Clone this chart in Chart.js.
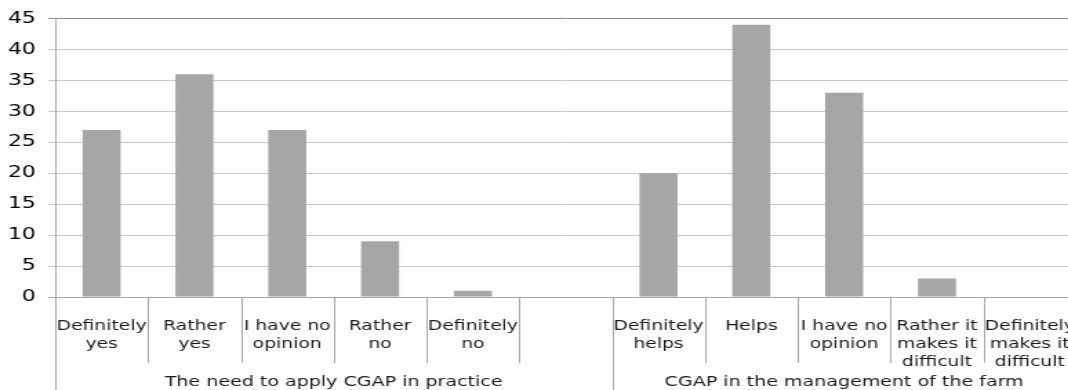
<!DOCTYPE html>
<html>
<head>
<meta charset="utf-8">
<script src="https://cdn.jsdelivr.net/npm/chart.js@4/dist/chart.umd.min.js"></script>
<style>
  html, body { margin: 0; padding: 0; background: #fff; overflow: hidden; }
  #wrap { width: 791px; height: 390px; transform: scaleX(1.38); transform-origin: 0 0; }
  canvas { display: block; }
</style>
</head>
<body>
<div id="wrap"><canvas id="chart" width="791" height="390"></canvas></div>
<script>
// Answer categories, with one blank slot separating the two questions
const categories = [
  ['Definitely', 'yes'], ['Rather', 'yes'], ['I have no', 'opinion'], ['Rather', 'no'], ['Definitely', 'no'],
  '',
  ['Definitely', 'helps'], 'Helps', ['I have no', 'opinion'], ['Rather it', 'makes it', 'difficult'], ['Definitely', 'makes it', 'difficult']
];
// Number of respondents per answer
const responses = [27, 36, 27, 9, 1, null, 20, 44, 33, 3, 0];
// Question titles and how many category slots each one covers
const groupTitles = ['The need to apply CGAP in practice', 'CGAP in the management of the farm'];
const groupSizes = [6, 5];
const yMax = 45;
const yStep = 5;

const FONT = 'DejaVu Sans, Verdana, sans-serif';
const AXIS_GREY = '#a6a6a6';

// Draws the category dividers below the axis and the question titles
const groupAxis = {
  id: 'groupAxis',
  afterDraw(chart) {
    const x = chart.scales.x;
    const ctx = chart.ctx;
    const area = chart.chartArea;
    const n = categories.length;
    const slot = (x.getPixelForValue(1) - x.getPixelForValue(0));
    const edge = i => x.getPixelForValue(i) - slot / 2;
    const bottom = chart.height;

    // slot indexes where a question starts
    const starts = [];
    let acc = 0;
    groupSizes.forEach(s => { starts.push(acc); acc += s; });

    ctx.save();
    ctx.strokeStyle = AXIS_GREY;
    ctx.lineWidth = 1;
    for (let i = 0; i <= n; i++) {
      const px = Math.round(edge(i)) + 0.5;
      const long = starts.includes(i);
      ctx.beginPath();
      ctx.moveTo(px, area.bottom);
      ctx.lineTo(px, long ? bottom : area.bottom + 66);
      ctx.stroke();
    }

    ctx.fillStyle = '#1a1a1a';
    ctx.font = '13.8px ' + FONT;
    ctx.textAlign = 'center';
    ctx.textBaseline = 'middle';
    groupTitles.forEach((t, g) => {
      const a = edge(starts[g]);
      const b = edge(starts[g] + groupSizes[g]);
      ctx.fillText(t, (a + b) / 2, 382);
    });
    ctx.restore();
  }
};

new Chart(document.getElementById('chart'), {
  type: 'bar',
  data: {
    labels: categories,
    datasets: [{
      data: responses,
      backgroundColor: '#a6a6a6',
      borderWidth: 0,
      categoryPercentage: 1,
      barPercentage: 0.41
    }]
  },
  options: {
    responsive: false,
    animation: false,
    layout: { padding: { top: 12, right: 3, left: 0, bottom: 0 } },
    plugins: { legend: { display: false }, tooltip: { enabled: false } },
    scales: {
      x: {
        grid: { display: false },
        border: { display: true, color: AXIS_GREY, width: 1 },
        ticks: {
          autoSkip: false, maxRotation: 0, minRotation: 0, padding: 12,
          color: '#1a1a1a',
          font: { family: FONT, size: 13.6, lineHeight: 1.33 }
        },
        afterFit(scale) { scale.height = 93; }
      },
      y: {
        min: 0, max: yMax,
        ticks: {
          stepSize: yStep, padding: 9, color: '#000',
          font: { family: FONT, size: 16 }
        },
        grid: {
          tickLength: 5,
          color: c => c.tick.value === yMax ? '#8c8c8c' : (c.tick.value === 0 ? AXIS_GREY : '#c8c8c8'),
          tickColor: c => c.tick.value === yMax ? '#8c8c8c' : (c.tick.value === 0 ? AXIS_GREY : '#c8c8c8')
        },
        border: { display: true, color: AXIS_GREY, width: 1 },
        afterFit(scale) { scale.width = 40; }
      }
    }
  },
  plugins: [groupAxis]
});
</script>
</body>
</html>
